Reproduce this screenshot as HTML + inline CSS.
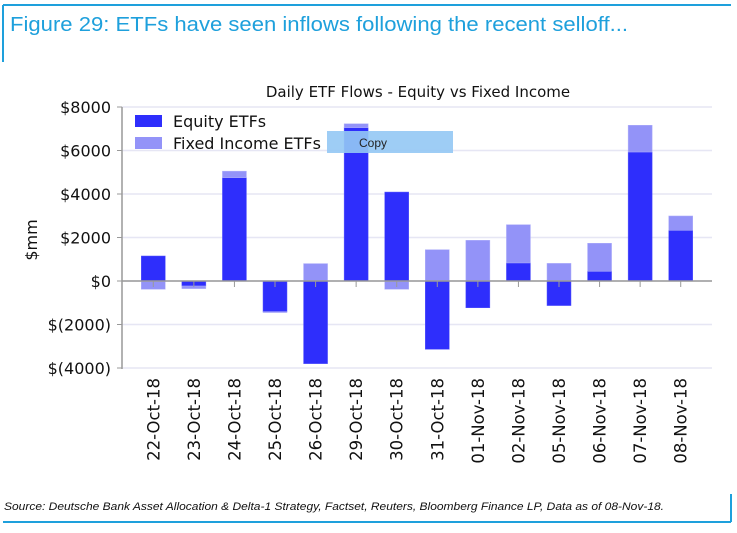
<!DOCTYPE html>
<html><head><meta charset="utf-8"><style>
body{margin:0;background:#fff;width:737px;height:529px;overflow:hidden;font-family:"DejaVu Sans","Liberation Sans",sans-serif}
</style></head><body>
<svg id="c" width="737" height="529" xmlns="http://www.w3.org/2000/svg">
<line x1="3" y1="5" x2="731" y2="5" stroke="#1ea0dc" stroke-width="2"/>
<line x1="3" y1="5" x2="3" y2="62" stroke="#1ea0dc" stroke-width="2"/>
<text x="10" y="31" font-family="Liberation Sans, sans-serif" font-size="20" textLength="618" lengthAdjust="spacingAndGlyphs" fill="#1ea0dc">Figure 29: ETFs have seen inflows following the recent selloff...</text>
<text x="418" y="97" text-anchor="middle" font-size="15" fill="#111">Daily ETF Flows - Equity vs Fixed Income</text>
<text transform="translate(37,240) rotate(-90)" text-anchor="middle" font-size="16" fill="#111">$mm</text>
<g id="grid"></g><g id="bars"></g><g id="axes"></g>
<g>
<rect x="135" y="115" width="27" height="12" fill="#2e2efc"/>
<text x="173" y="127" font-size="16" fill="#111">Equity ETFs</text>
<rect x="135" y="137" width="27" height="12" fill="#9393f8"/>
<text x="173" y="149" font-size="16" fill="#111">Fixed Income ETFs</text>
</g>
<rect x="327" y="131" width="126" height="22" fill="#94c8f4" opacity="0.9"/>
<text x="359" y="147" font-family="Liberation Sans, sans-serif" font-size="12" fill="#222">Copy</text>
<text x="4" y="510" font-family="Liberation Sans, sans-serif" font-style="italic" font-size="11" textLength="660" lengthAdjust="spacingAndGlyphs" fill="#111">Source: Deutsche Bank Asset Allocation &amp; Delta-1 Strategy, Factset, Reuters, Bloomberg Finance LP, Data as of 08-Nov-18.</text>
<line x1="731" y1="494" x2="731" y2="522" stroke="#1ea0dc" stroke-width="2"/>
<line x1="3" y1="522" x2="731" y2="522" stroke="#1ea0dc" stroke-width="2"/>
</svg>
<script>
const categories=["22-Oct-18","23-Oct-18","24-Oct-18","25-Oct-18","26-Oct-18","29-Oct-18","30-Oct-18","31-Oct-18","01-Nov-18","02-Nov-18","05-Nov-18","06-Nov-18","07-Nov-18","08-Nov-18"];
const equity=[1150,-230,4750,-1410,-3800,7050,4090,-3140,-1230,830,-1130,445,5930,2330];
const fixedIncome=[-380,-120,300,-40,800,180,-380,1440,1870,1760,810,1290,1230,660];
const yTicks=[8000,6000,4000,2000,0,-2000,-4000];
const yTickLabels=["$8000","$6000","$4000","$2000","$0","$(2000)","$(4000)"];
const NS="http://www.w3.org/2000/svg";
const L=122,R=712,T=107,B=368,yMin=-4000,yMax=8000;
const y=v=>B-(v-yMin)/(yMax-yMin)*(B-T);
const step=(R-L-22)/categories.length;
const x=i=>L+11+step*(i+0.5);
const bw=24;
function mk(t,a,p){const e=document.createElementNS(NS,t);for(const k in a)e.setAttribute(k,a[k]);p.appendChild(e);return e;}
const grid=document.getElementById('grid'),bars=document.getElementById('bars'),axes=document.getElementById('axes');
yTicks.forEach((v,i)=>{
 const g=mk('line',{x1:L,x2:R,y1:y(v),y2:y(v),stroke:'#e6e6f4','stroke-width':1.5},grid);
 
 
 const tk=mk('line',{x1:L-5,x2:L,y1:y(v),y2:y(v),stroke:'#999'},axes);
 
 
 const t=mk('text',{x:L-11,y:y(v)+6,'text-anchor':'end','font-size':16,fill:'#111'},axes);
 t.textContent=yTickLabels[i];
 
 
});
categories.forEach((c,i)=>{
 const e=equity[i],f=fixedIncome[i];
 const e0=0,e1=e;
 let f0,f1;
 if((f>=0)===(e>=0)){f0=e;f1=e+f;}else{f0=0;f1=f;}
 const r1=mk('rect',{x:x(i)-bw/2,y:Math.min(y(e0),y(e1)),width:bw,height:Math.abs(y(e1)-y(e0)),fill:'#2e2efc',stroke:'#5a5afc','stroke-width':0.5},bars);
 
 
 const r2=mk('rect',{x:x(i)-bw/2,y:Math.min(y(f0),y(f1)),width:bw,height:Math.abs(y(f1)-y(f0)),fill:'#9393f8',stroke:'#b0b0fa','stroke-width':0.5},bars);
 
 
 const tk=mk('line',{x1:x(i),x2:x(i),y1:y(0),y2:y(0)+6,stroke:'#999'},axes);
 
 
 const t=mk('text',{transform:`translate(${x(i)+6},378) rotate(-90)`,'text-anchor':'end','font-size':16.5,fill:'#111'},axes);
 t.textContent=c;
 
 
});
const za=mk('line',{x1:L,x2:R,y1:y(0),y2:y(0),stroke:'#999','stroke-width':1.5},axes);


const ya=mk('line',{x1:L,x2:L,y1:T,y2:B+1,stroke:'#999','stroke-width':1.5},axes);


</script>
</body></html>
